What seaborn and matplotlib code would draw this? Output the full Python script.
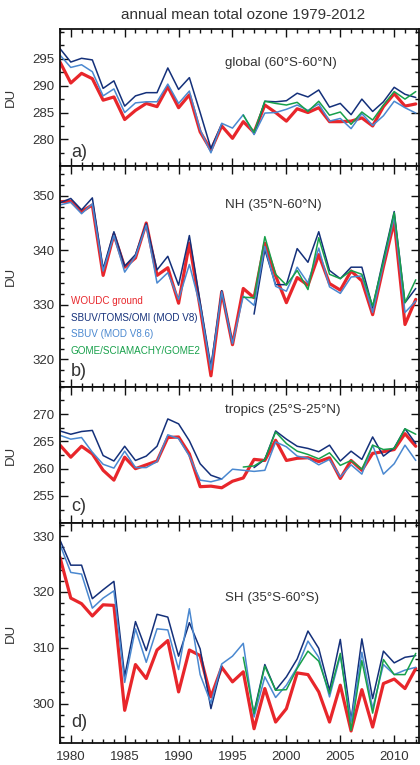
import numpy as np
import pandas as pd
import matplotlib
matplotlib.use("Agg")
import matplotlib.pyplot as plt
from matplotlib.ticker import MultipleLocator, FixedLocator
import seaborn as sns

years = list(range(1979, 2013))
nan = np.nan

# ---- panel a: global (60S-60N)
a_woudc = [294.4, 290.5, 292.3, 291.3, 287.3, 287.9, 283.7, 285.4, 286.7, 286.1, 289.8, 285.9, 288.3, 281.4, 278.0, 282.5, 280.2,
           283.3, 281.3, 286.4, 285.0, 283.4, 285.7, 285.0, 285.9, 283.3, 283.3, 283.4, 284.0, 282.5, 286.1, 288.5, 286.2, 286.6]
a_v8 = [296.9, 294.4, 295.1, 294.8, 289.5, 290.9, 286.2, 288.1, 288.7, 288.7, 293.3, 289.3, 291.5, 285.0, 278.3, 282.8, nan,
        nan, 281.0, 287.1, 287.0, 287.2, 288.6, 287.9, 289.2, 286.0, 286.7, 284.6, 287.5, 285.2, 287.0, 289.7, 288.4, 287.8]
a_v86 = [295.7, 293.4, 293.9, 292.6, 288.1, 289.4, 285.0, 286.8, 287.0, 287.0, 290.3, 286.7, 289.0, 281.8, 277.5, 283.0, 282.1,
         284.6, 280.9, 284.9, 285.0, 285.6, 286.4, 285.4, 286.6, 283.4, 283.9, 282.0, 284.8, 282.6, 284.4, 287.1, 285.9, 284.9]
a_gome = [nan] * 17 + [284.5, 281.3, 287.1, 286.7, 286.4, 286.9, 285.2, 287.1, 284.5, 285.1, 282.8, 285.1, 283.6, 286.4, 288.9, 287.5, 288.9]

# ---- panel b: NH (35N-60N)
b_woudc = [348.9, 349.0, 347.1, 348.3, 335.4, 342.9, 336.9, 338.6, 345.0, 335.4, 336.8, 330.3, 341.3, 329.5, 317.0, 332.4, 322.7,
           333.0, 331.3, 341.3, 335.3, 330.4, 335.0, 333.6, 339.2, 333.9, 332.7, 336.2, 334.4, 328.2, 337.0, 345.3, 326.4, 331.0]
b_v8 = [348.7, 349.5, 347.4, 349.6, 336.6, 343.4, 337.1, 339.2, 344.9, 336.4, 338.9, 333.6, 342.7, 330.5, 318.7, 332.6, 323.0,
        nan, 328.3, 340.1, 333.7, 333.7, 340.3, 337.8, 343.4, 336.3, 334.8, 336.9, 336.9, 329.5, 338.5, 347.1, 330.4, 333.0]
b_v86 = [348.3, 348.8, 346.7, 348.5, 336.2, 342.7, 336.0, 338.9, 344.6, 334.0, 335.9, 331.0, 337.4, 329.8, 318.1, 332.4, 322.9,
         331.6, 329.9, 340.7, 333.4, 332.5, 336.9, 334.0, 340.4, 333.3, 332.1, 335.1, 335.3, 328.6, 337.5, 346.1, 328.6, 330.7]
b_gome = [nan] * 17 + [331.4, 331.3, 342.5, 335.6, 333.6, 336.3, 332.8, 342.3, 335.6, 334.8, 336.3, 335.6, 329.8, 338.0, 346.9, 330.4, 334.6]

# ---- panel c: tropics (25S-25N)
c_woudc = [264.3, 262.1, 264.1, 262.7, 259.7, 257.9, 262.1, 260.0, 260.7, 261.4, 265.7, 265.8, 262.7, 256.7, 256.8, 256.5, 257.7,
           258.3, 261.7, 261.5, 265.2, 261.5, 261.9, 262.0, 261.3, 262.0, 258.2, 261.5, 259.7, 262.8, 263.1, 263.5, 266.4, 264.1]
c_v8 = [266.9, 266.3, 266.8, 267.0, 262.4, 261.4, 264.1, 261.5, 262.3, 264.1, 269.1, 268.2, 265.1, 260.9, 258.8, 258.1, nan,
        nan, 260.2, 261.7, 266.9, 265.4, 264.1, 263.7, 263.1, 264.3, 261.4, 263.2, 261.7, 265.8, 262.3, 263.8, 267.3, 264.6]
c_v86 = [266.1, 265.4, 265.7, 263.0, 260.8, 260.1, 263.2, 260.2, 260.2, 261.3, 266.2, 265.5, 262.3, 257.9, 257.6, 258.1, 259.9,
         259.7, 259.5, 259.7, 264.9, 264.0, 262.3, 261.9, 260.7, 261.7, 258.5, 260.7, 259.0, 264.3, 259.0, 260.9, 264.3, 261.5]
c_gome = [nan] * 17 + [260.3, 260.5, 261.7, 266.7, 264.6, 263.2, 262.6, 261.8, 262.9, 260.6, 261.5, 259.9, 264.3, 263.5, 263.7, 267.3, 266.3]

# ---- panel d: SH (35S-60S)
d_woudc = [326.2, 318.9, 317.9, 315.7, 317.7, 317.6, 298.8, 307.0, 304.5, 309.6, 311.3, 302.1, 309.6, 308.6, 301.2, 306.5, 303.9,
           305.7, 295.5, 302.7, 296.7, 299.1, 305.5, 305.2, 302.1, 296.7, 303.3, 295.1, 302.5, 295.8, 303.6, 304.4, 302.7, 306.3]
d_v8 = [329.3, 324.8, 324.8, 318.8, 320.4, 321.9, 304.9, 314.7, 309.5, 316.0, 315.5, 308.5, 314.5, 309.8, 299.1, 306.8, nan,
        nan, 298.5, 307.0, 302.4, 304.8, 308.0, 313.0, 309.9, 302.4, 311.5, 297.0, 311.6, 300.9, 309.4, 307.3, 308.3, 308.6]
d_v86 = [328.5, 323.5, 323.2, 317.1, 318.9, 320.2, 303.8, 313.4, 307.4, 313.4, 313.2, 306.1, 317.0, 305.2, 300.1, 307.1, 308.5,
         310.8, 297.6, 304.8, 301.1, 303.3, 306.5, 311.2, 308.3, 301.2, 308.6, 296.7, 309.2, 299.1, 307.0, 305.2, 306.0, 306.5]
d_gome = [nan] * 17 + [308.3, 298.2, 306.7, 302.4, 302.5, 306.3, 309.4, 307.6, 301.8, 309.0, 295.2, 307.7, 298.3, 307.9, 305.2, 305.2, 309.0]

series_names = ["WOUDC ground", "SBUV/TOMS/OMI (MOD V8)", "SBUV (MOD V8.6)", "GOME/SCIAMACHY/GOME2"]
series_colors = ["#e8262b", "#14307a", "#4a88d0", "#17a04a"]
series_widths = [2.3, 1.1, 1.1, 1.1]

region_titles = ["global (60°S-60°N)", "NH (35°N-60°N)", "tropics (25°S-25°N)", "SH (35°S-60°S)"]
panel_letters = ["a)", "b)", "c)", "d)"]
title = "annual mean total ozone 1979-2012"
xticks = [1980, 1985, 1990, 1995, 2000, 2005, 2010]
yticks = [[280, 285, 290, 295], [320, 330, 340, 350], [255, 260, 265, 270], [300, 310, 320, 330]]

panels = [
    [a_woudc, a_v8, a_v86, a_gome],
    [b_woudc, b_v8, b_v86, b_gome],
    [c_woudc, c_v8, c_v86, c_gome],
    [d_woudc, d_v8, d_v86, d_gome],
]
ylims = [(275.1, 300.5), (315.0, 355.5), (250.0, 275.0), (293.0, 332.3)]
yminor = [2.5, 2, 2.5, 2]
title_pos = [0.753, 0.822, 0.83, 0.66]
letter_pos = [0.10, 0.07, 0.12, 0.09]

sns.set_style("ticks")
plt.rcParams["font.family"] = ["Liberation Sans", "DejaVu Sans"]
plt.rcParams["axes.linewidth"] = 1.3

fig = plt.figure(figsize=(4.2, 7.65), dpi=100)
W = 420.0
H = 765.0
bounds = [(29.3, 165.7), (165.7, 386.7), (386.7, 523.3), (523.3, 742.7)]
axes = []
for top, bot in bounds:
    axes.append(fig.add_axes([60 / W, 1 - bot / H, 359 / W, (bot - top) / H]))


def segments(vals):
    """Split a series into contiguous non-missing runs."""
    runs, cur = [], []
    for y, v in zip(years, vals):
        if np.isnan(v):
            if cur:
                runs.append(cur)
            cur = []
        else:
            cur.append((y, v))
    if cur:
        runs.append(cur)
    return runs


for i, ax in enumerate(axes):
    for vals, col, lw in zip(panels[i], series_colors, series_widths):
        for run in segments(vals):
            df = pd.DataFrame(run, columns=["year", "DU"])
            sns.lineplot(data=df, x="year", y="DU", ax=ax, color=col, linewidth=lw,
                         estimator=None, sort=False, legend=False)
    ax.set_xlim(1979, 2012.3)
    ax.set_ylim(*ylims[i])
    ax.xaxis.set_major_locator(FixedLocator(xticks))
    ax.xaxis.set_minor_locator(MultipleLocator(1))
    ax.yaxis.set_major_locator(FixedLocator(yticks[i]))
    ax.yaxis.set_minor_locator(MultipleLocator(yminor[i]))
    ax.tick_params(which="both", direction="in", top=True, right=True, colors="#111", labelcolor="#333",
                   labelsize=9.5, width=1.0)
    ax.tick_params(which="major", length=6)
    ax.tick_params(which="minor", length=3)
    ax.tick_params(axis="y", pad=4)
    ax.set_ylabel("DU", fontsize=9.5, color="#333")
    ax.yaxis.set_label_coords(-0.119, 0.5)
    ax.set_xlabel("")
    for s in ax.spines.values():
        s.set_color("#111")
    if i < 3:
        ax.set_xticklabels([])
    else:
        ax.set_xticklabels([str(t) for t in xticks])
        ax.tick_params(axis="x", pad=6)
    ax.text(0.46, title_pos[i], region_titles[i], transform=ax.transAxes, fontsize=9.6, color="#333",
            ha="left", va="center")
    ax.text(0.03, letter_pos[i], panel_letters[i], transform=ax.transAxes, fontsize=13, color="#333",
            ha="left", va="center")

# legend as coloured text in panel b
leg_y = [0.39, 0.31, 0.24, 0.16]
for name, col, yy in zip(series_names, series_colors, leg_y):
    axes[1].text(0.03, yy, name, transform=axes[1].transAxes, fontsize=7.1, color=col, ha="left", va="center")

fig.text(0.578, 1 - 15 / H, title, fontsize=11, color="#333", ha="center", va="center")

fig.savefig("out.png", dpi=100)
